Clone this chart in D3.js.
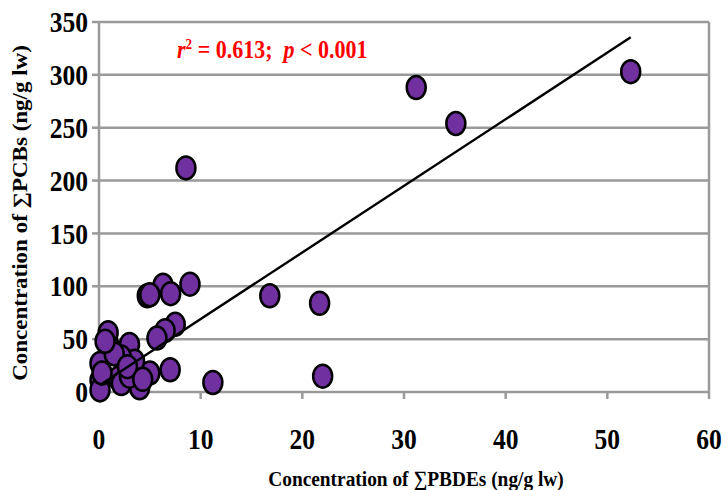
<!DOCTYPE html>
<html lang="en">
<head>
<meta charset="utf-8">
<title>PCBs vs PBDEs</title>
<script src="https://cdn.jsdelivr.net/npm/d3@7"></script>
<style>
  body { margin: 0; background: #fff; }
  text { font-family: "Liberation Serif", "Times New Roman", serif; font-weight: bold; }
  .grid line { stroke: #9a9a9a; stroke-width: 2.5; }
  .dot { fill: #7030a0; stroke: #000; stroke-width: 2.5; }
</style>
</head>
<body>
<script>
// sum PBDEs (x) and sum PCBs (y), ng/g lw
var pbde = [52.3, 31.2, 35.1, 8.55, 8.95, 6.3, 4.75, 7.05, 16.8, 21.7, 22.0, 11.2,
            7.5, 6.5, 5.7, 0.9, 1.1, 3.0, 0.1, 7.0, 5.0, 3.5, 2.2, 0.1,
            0.1, 1.9, 4.0, 2.2, 3.0, 1.5, 0.6, 2.8, 4.3, 0.3, 5.0];
var pcb  = [303, 288, 254, 212, 102, 101, 91, 93, 91, 84, 15, 9,
            64, 58, 51, 56, 42, 45, 27, 21, 18, 29, 33, 11,
            2, 13, 4, 8, 15, 36, 48, 24, 12, 18, 92];
var xTicks = [0, 10, 20, 30, 40, 50, 60];
var yTicks = [0, 50, 100, 150, 200, 250, 300, 350];
var trendSlope = 6.3, trendIntercept = 6;

var width = 728, height = 490;
var sx = 0.88; // the source text is squeezed sideways

var x = d3.scaleLinear().domain([0, 60]).range([99, 709]);
var y = d3.scaleLinear().domain([0, 350]).range([392, 22]);

var svg = d3.select("body").append("svg")
    .attr("width", width)
    .attr("height", height);

// horizontal grid
svg.append("g").attr("class", "grid")
  .selectAll("line")
  .data(yTicks.slice(1))
  .enter().append("line")
    .attr("x1", x(0)).attr("x2", x(60))
    .attr("y1", function(d) { return y(d); })
    .attr("y2", function(d) { return y(d); });

// frame: left axis, bottom axis, right edge
var frame = svg.append("g").attr("class", "grid");
frame.append("line").attr("x1", x(0)).attr("x2", x(0)).attr("y1", y(0) + 1).attr("y2", y(350));
frame.append("line").attr("x1", x(0)).attr("x2", x(60) + 1).attr("y1", y(0)).attr("y2", y(0));
frame.append("line").attr("x1", x(60)).attr("x2", x(60)).attr("y1", y(0)).attr("y2", y(350));

// tick marks
frame.selectAll(".yt").data(yTicks).enter().append("line")
    .attr("x1", x(0) - 7).attr("x2", x(0))
    .attr("y1", function(d) { return y(d); })
    .attr("y2", function(d) { return y(d); });
frame.selectAll(".xt").data(xTicks).enter().append("line")
    .attr("x1", function(d) { return x(d); })
    .attr("x2", function(d) { return x(d); })
    .attr("y1", y(0)).attr("y2", y(0) + 7);

// tick labels
svg.selectAll(".ylab").data(yTicks).enter().append("text")
    .attr("transform", function(d) { return "translate(88," + y(d) + ") scale(" + sx + ",1)"; })
    .attr("text-anchor", "end")
    .attr("dy", "0.35em")
    .style("font-size", "29px")
    .text(function(d) { return d; });

svg.selectAll(".xlab").data(xTicks).enter().append("text")
    .attr("transform", function(d) { return "translate(" + x(d) + ",439) scale(" + sx + ",1)"; })
    .attr("text-anchor", "middle")
    .attr("dy", "0.35em")
    .style("font-size", "29px")
    .text(function(d) { return d; });

// points
svg.selectAll(".dot")
  .data(pbde.map(function(v, i) { return [v, pcb[i]]; }))
  .enter().append("ellipse")
    .attr("class", "dot")
    .attr("cx", function(d) { return x(d[0]); })
    .attr("cy", function(d) { return y(d[1]); })
    .attr("rx", 9.5)
    .attr("ry", 11.5);

// linear trend over the data range
var x0 = d3.min(pbde), x1 = d3.max(pbde);
svg.append("line")
    .attr("x1", x(x0)).attr("y1", y(trendIntercept + trendSlope * x0))
    .attr("x2", x(x1)).attr("y2", y(trendIntercept + trendSlope * x1))
    .attr("stroke", "#000")
    .attr("stroke-width", 2.4);

// statistics note
var note = svg.append("text")
    .attr("transform", "translate(177,58) scale(" + sx + ",1)")
    .attr("fill", "#ff0000")
    .style("font-size", "25px");
note.append("tspan").style("font-style", "italic").text("r");
note.append("tspan").attr("dy", -9).style("font-size", "15px").text("2");
note.append("tspan").attr("dy", 9).text(" = 0.613;\u00a0\u00a0");
note.append("tspan").style("font-style", "italic").text("p");
note.append("tspan").text(" < 0.001");

// axis titles
svg.append("text")
    .attr("transform", "translate(416,478) scale(" + sx + ",1)")
    .attr("text-anchor", "middle")
    .attr("dy", "0.35em")
    .style("font-size", "22px")
    .text("Concentration of \u2211PBDEs (ng/g lw)");

svg.append("text")
    .attr("transform", "translate(20,213) scale(" + sx + ",1) rotate(-90)")
    .attr("text-anchor", "middle")
    .attr("dy", "0.35em")
    .style("font-size", "23px")
    .text("Concentration of \u2211PCBs (ng/g lw)");
</script>
</body>
</html>
